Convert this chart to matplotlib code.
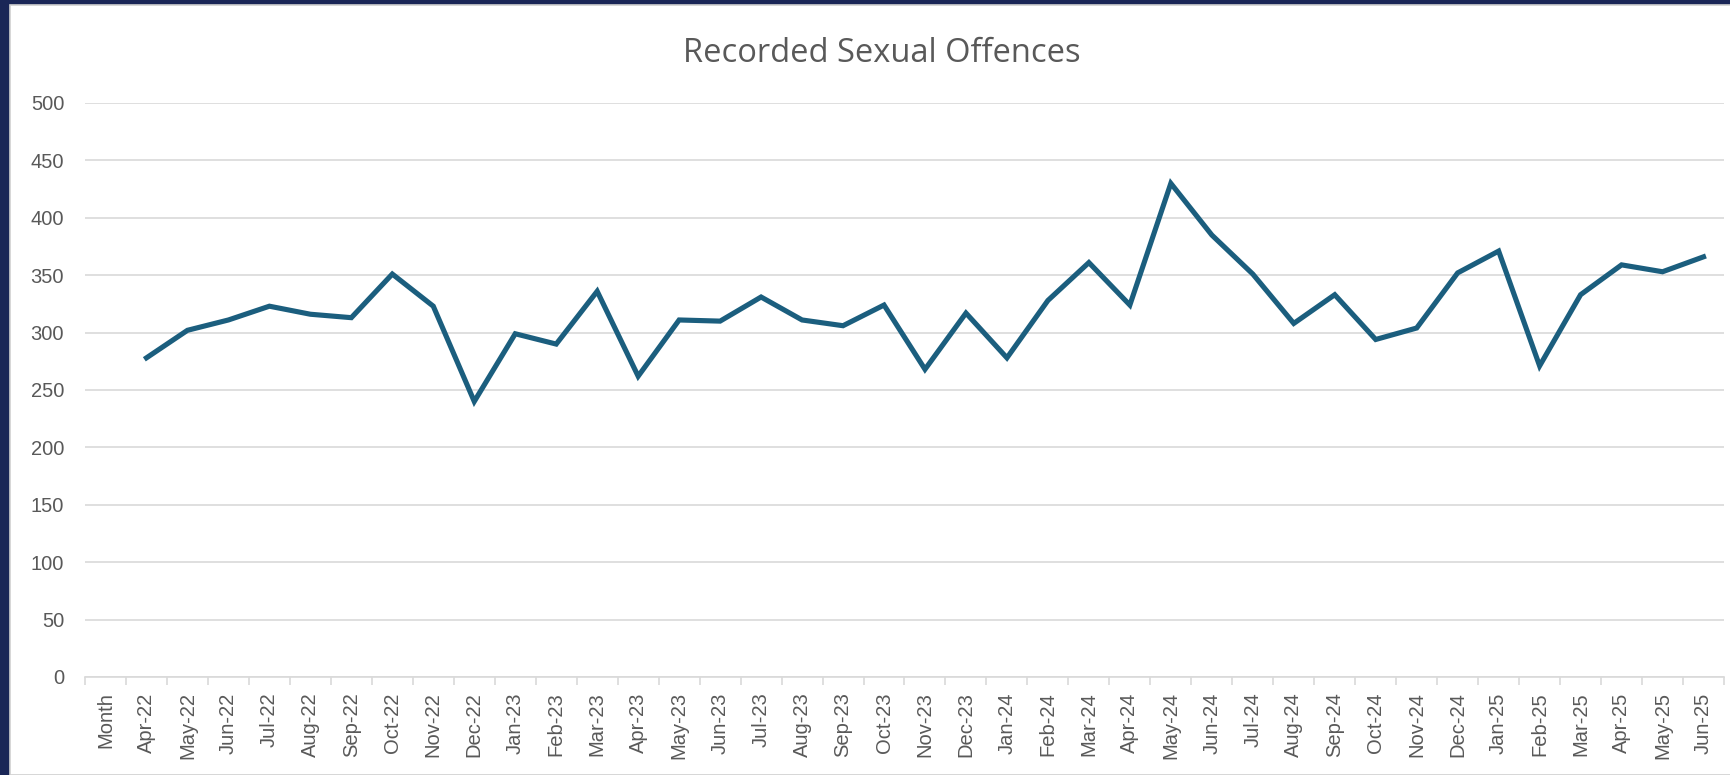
import numpy as np
import matplotlib
matplotlib.use("Agg")
import matplotlib.pyplot as plt
from matplotlib.patches import Rectangle

categories = ["Month",
              "Apr-22", "May-22", "Jun-22", "Jul-22", "Aug-22", "Sep-22", "Oct-22", "Nov-22", "Dec-22",
              "Jan-23", "Feb-23", "Mar-23", "Apr-23", "May-23", "Jun-23", "Jul-23", "Aug-23", "Sep-23",
              "Oct-23", "Nov-23", "Dec-23", "Jan-24", "Feb-24", "Mar-24", "Apr-24", "May-24", "Jun-24",
              "Jul-24", "Aug-24", "Sep-24", "Oct-24", "Nov-24", "Dec-24", "Jan-25", "Feb-25", "Mar-25",
              "Apr-25", "May-25", "Jun-25"]
values = [np.nan,
          278, 302, 311, 323, 316, 313, 351, 323, 240,
          299, 290, 336, 262, 311, 310, 331, 311, 306,
          324, 268, 317, 278, 328, 361, 324, 430, 385,
          351, 308, 333, 294, 304, 352, 371, 271, 333,
          359, 353, 366]
yticks = [0, 50, 100, 150, 200, 250, 300, 350, 400, 450, 500]
title = "Recorded Sexual Offences"

W, H = 1731, 775
fig = plt.figure(figsize=(W / 100, H / 100), dpi=100)
fig.patch.set_facecolor("#1a2657")
# white chart panel
fig.patches.append(Rectangle((10 / W, 0), (W - 10) / W, (H - 5) / H,
                             transform=fig.transFigure, facecolor="white",
                             edgecolor="#d0d0d0", linewidth=1.2, zorder=-10))

left, right, top, bottom = 85, 1724, 103, 677
ax = fig.add_axes([left / W, 1 - bottom / H, (right - left) / W, (bottom - top) / H])
ax.set_zorder(5)
ax.set_facecolor("none")

x = np.arange(len(categories))
ax.plot(x, values, color="#1b5e7e", linewidth=3.7, solid_joinstyle="miter", zorder=3)

ax.set_xlim(-0.5, len(categories) - 0.5)
ax.set_ylim(0, 500)
ax.set_yticks(yticks)
ax.yaxis.grid(True, color="#d9d9d9", linewidth=1.2)
ax.set_axisbelow(True)
ax.tick_params(axis="y", length=0, pad=15, labelsize=14.5, labelcolor="#595959")
for lbl in ax.get_yticklabels():
    lbl.set_fontfamily("Liberation Sans")

ax.set_xticks(x)
ax.set_xticklabels(categories, rotation=90, fontsize=14.5, color="#595959",
                   fontfamily="Liberation Sans")
ax.tick_params(axis="x", which="major", length=0, pad=11)
ax.set_xticks(np.arange(-0.5, len(categories), 1.0), minor=True)
ax.tick_params(axis="x", which="minor", length=6, color="#d9d9d9", width=1.2)

for s in ["left", "right", "top"]:
    ax.spines[s].set_visible(False)
ax.spines["bottom"].set_color("#d9d9d9")
ax.spines["bottom"].set_linewidth(1.2)

fig.text(882 / W, 1 - 53 / H, title, ha="center", va="center",
         fontsize=23.5, color="#595959", fontfamily="Open Sans")

fig.savefig("out.png", dpi=100, facecolor=fig.get_facecolor())
